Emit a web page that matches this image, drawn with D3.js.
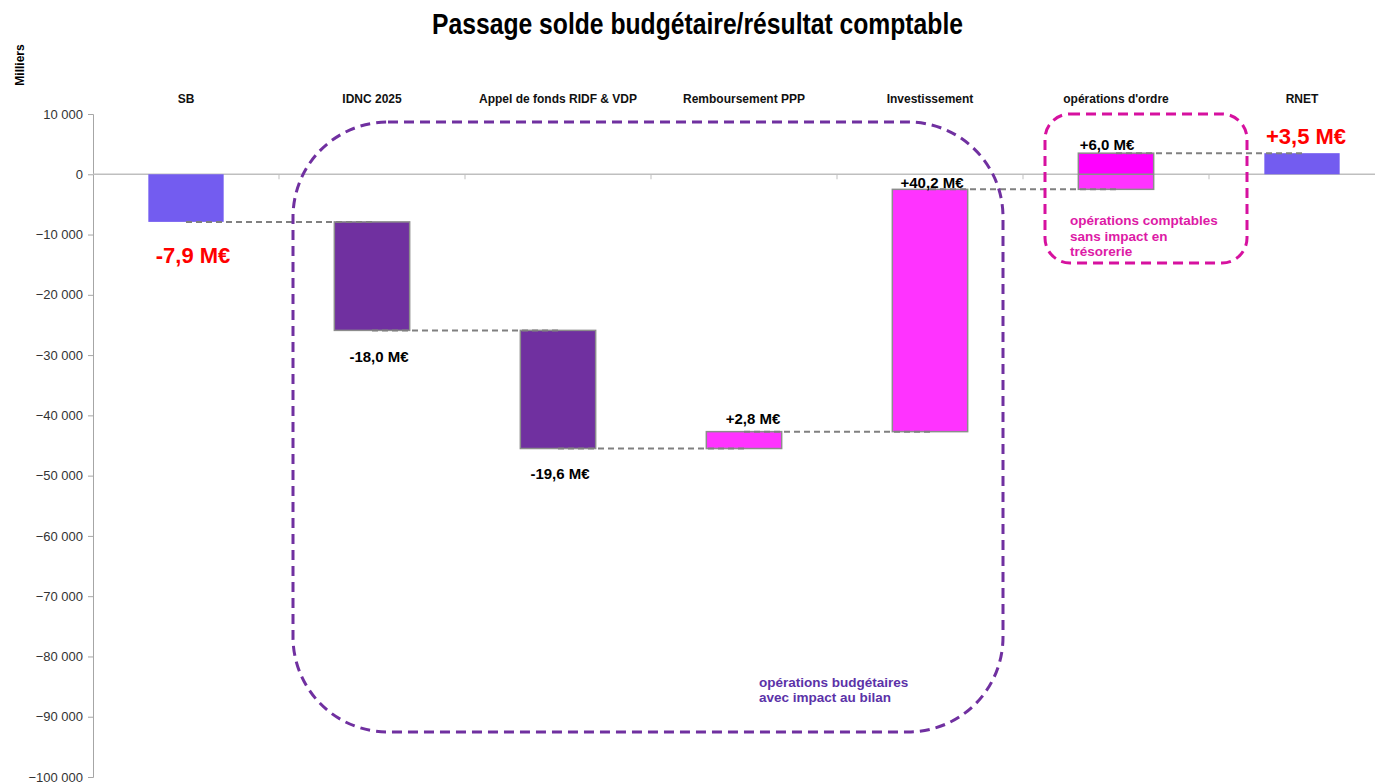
<!DOCTYPE html>
<html><head><meta charset="utf-8">
<script src="https://cdn.jsdelivr.net/npm/d3@7/dist/d3.min.js"></script>
<style>body{margin:0;background:#fff}svg{display:block}</style>
</head><body>
<svg id="chart" width="1375" height="784"></svg>
<script>
const categories = ["SB","IDNC 2025","Appel de fonds RIDF & VDP","Remboursement PPP","Investissement","opérations d'ordre","RNET"];
const deltas = [-7900, -18000, -19600, 2800, 40200, 6000, 3500];
const isTotal = [true, false, false, false, false, false, true];
const valueLabels = ["-7,9 M€","-18,0 M€","-19,6 M€","+2,8 M€","+40,2 M€","+6,0 M€","+3,5 M€"];
const yTicks = [10000,0,-10000,-20000,-30000,-40000,-50000,-60000,-70000,-80000,-90000,-100000];

const svg = d3.select("#chart");
const x = d3.scaleBand().domain(categories).range([93, 1395]).paddingInner(0).paddingOuter(0);
const y = d3.scaleLinear().domain([-100000, 10000]).range([777, 114]);

// compute waterfall
let run = 0;
const bars = categories.map((c, i) => {
  let start, end;
  if (isTotal[i]) { start = 0; end = deltas[i]; run = end; }
  else { start = run; end = run + deltas[i]; run = end; }
  return {c, i, start, end, d: deltas[i]};
});

const bw = x.bandwidth() * 0.405;
const cx = c => x(c) + x.bandwidth() / 2;

// title
svg.append("text").attr("x", 432).attr("y", 34)
  .attr("font-family", "'Liberation Sans', Arial, sans-serif").attr("font-weight", "bold")
  .attr("font-size", 29).attr("fill", "#000")
  .attr("textLength", 531).attr("lengthAdjust", "spacingAndGlyphs")
  .text("Passage solde budgétaire/résultat comptable");

svg.append("text").attr("transform", "translate(24,65) rotate(-90)").attr("text-anchor", "middle")
  .attr("font-family", "Arial, 'Liberation Sans', sans-serif").attr("font-weight", "bold")
  .attr("font-size", 12).text("Milliers");

// y axis
const yAxis = d3.axisLeft(y).tickValues(yTicks).tickSize(5)
  .tickFormat(d => d3.format(",")(d).replace(/,/g, " "));
const gy = svg.append("g").attr("transform", "translate(93,0)").call(yAxis);
gy.select(".domain").attr("stroke", "#a6a6a6").attr("stroke-width", 1);
gy.selectAll(".tick line").attr("stroke", "#a6a6a6");
gy.selectAll(".tick text").attr("font-family", "Arial, 'Liberation Sans', sans-serif")
  .attr("font-size", 13).attr("fill", "#333").attr("x", -10);

// zero axis with category ticks
const gx = svg.append("g").attr("transform", `translate(0,${y(0)})`);
gx.append("line").attr("x1", 93).attr("x2", 1395).attr("stroke", "#bfbfbf").attr("stroke-width", 1.5);
gx.selectAll("line.t").data(categories.slice(1)).join("line").attr("class", "t")
  .attr("x1", d => x(d)).attr("x2", d => x(d)).attr("y1", 0).attr("y2", 5).attr("stroke", "#bfbfbf");

// category labels on top
svg.append("g").selectAll("text").data(categories).join("text")
  .attr("x", d => cx(d)).attr("y", 103).attr("text-anchor", "middle")
  .attr("font-family", "Arial, 'Liberation Sans', sans-serif").attr("font-weight", "bold")
  .attr("font-size", 12).attr("fill", "#111").text(d => d);

// bars
function fillFor(b) {
  if (isTotal[b.i]) return "#735cf0";
  return b.d < 0 ? "#7030a0" : "#ff33ff";
}
const gb = svg.append("g");
bars.forEach(b => {
  const top = Math.max(b.start, b.end), bot = Math.min(b.start, b.end);
  if (!isTotal[b.i] && b.d > 0 && bot < 0 && top > 0) {
    gb.append("rect").attr("x", cx(b.c) - bw/2).attr("width", bw)
      .attr("y", y(top)).attr("height", y(0) - y(top)).attr("fill", "#ff00ff");
    gb.append("rect").attr("x", cx(b.c) - bw/2).attr("width", bw)
      .attr("y", y(0)).attr("height", y(bot) - y(0)).attr("fill", "#ff33ff");
    gb.append("rect").attr("x", cx(b.c) - bw/2).attr("width", bw)
      .attr("y", y(top)).attr("height", y(bot) - y(top)).attr("fill", "none")
      .attr("stroke", "#8c8c8c").attr("stroke-width", 1.5);
    gb.append("line").attr("x1", cx(b.c) - bw/2).attr("x2", cx(b.c) + bw/2)
      .attr("y1", y(0)).attr("y2", y(0)).attr("stroke", "#8c8c8c").attr("stroke-width", 1.5);
  } else {
    const r = gb.append("rect").attr("x", cx(b.c) - bw/2).attr("width", bw)
      .attr("y", y(top)).attr("height", y(bot) - y(top)).attr("fill", fillFor(b));
    if (!isTotal[b.i]) r.attr("stroke", "#8c8c8c").attr("stroke-width", 1.5);
  }
});

// connectors
const gc = svg.append("g");
bars.slice(0, -1).forEach((b, k) => {
  const nxt = bars[k + 1];
  gc.append("line").attr("x1", cx(b.c)).attr("x2", cx(nxt.c))
    .attr("y1", y(b.end)).attr("y2", y(b.end))
    .attr("stroke", "#808080").attr("stroke-width", 2).attr("stroke-dasharray", "6,4");
});

// value labels
const labelDy = [41, 32, 30, -8, -1, -3, -9];
const labelDx = [7, 7, 2, 9, 2, -9, 4];
svg.append("g").selectAll("text").data(bars).join("text")
  .attr("x", b => cx(b.c) + labelDx[b.i])
  .attr("y", b => (b.d < 0 ? y(Math.min(b.start, b.end)) : y(Math.max(b.start, b.end))) + labelDy[b.i])
  .attr("text-anchor", "middle")
  .attr("font-family", "Arial, 'Liberation Sans', sans-serif").attr("font-weight", "bold")
  .attr("font-size", b => isTotal[b.i] ? 22 : 15)
  .attr("fill", b => isTotal[b.i] ? "#ff0000" : "#000")
  .text(b => valueLabels[b.i]);

// annotation boxes
svg.append("rect").attr("x", 293).attr("y", 122).attr("width", 710).attr("height", 610)
  .attr("rx", 95).attr("ry", 95).attr("fill", "none").attr("stroke", "#7030a0")
  .attr("stroke-width", 3).attr("stroke-dasharray", "10,6");
svg.append("text").attr("font-family", "Arial, 'Liberation Sans', sans-serif").attr("font-weight", "bold")
  .attr("font-size", 13.5).attr("fill", "#5b32a8")
  .selectAll("tspan").data(["opérations budgétaires", "avec impact au bilan"]).join("tspan")
  .attr("x", 759).attr("y", (d, i) => 687 + i * 15).text(d => d);

svg.append("rect").attr("x", 1045).attr("y", 114).attr("width", 202).attr("height", 149)
  .attr("rx", 25).attr("ry", 25).attr("fill", "none").attr("stroke", "#d6119f")
  .attr("stroke-width", 3).attr("stroke-dasharray", "10,6");
svg.append("text").attr("font-family", "Arial, 'Liberation Sans', sans-serif").attr("font-weight", "bold")
  .attr("font-size", 13.5).attr("fill", "#dd1aa6")
  .selectAll("tspan").data(["opérations comptables", "sans impact en", "trésorerie"]).join("tspan")
  .attr("x", 1070).attr("y", (d, i) => 225 + i * 15.5).text(d => d);
</script>
</body></html>
